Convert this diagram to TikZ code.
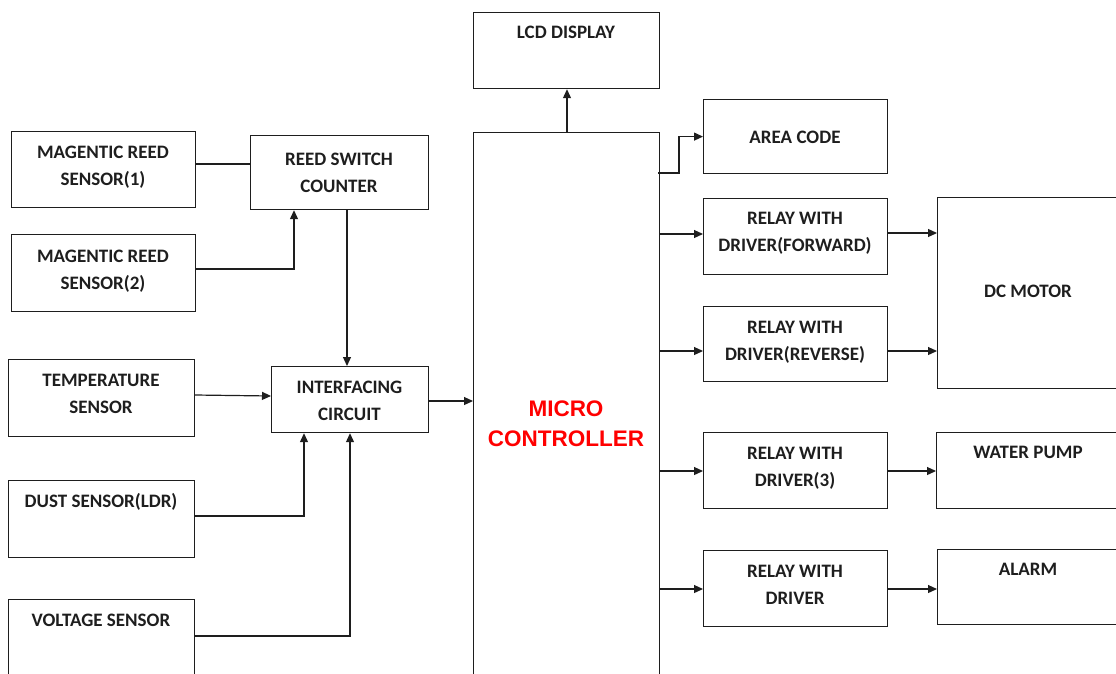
\documentclass[tikz,border=0pt]{standalone}
\usepackage{fontspec}
\setmainfont{Carlito}
\newfontfamily\headfont{Liberation Sans}
\usetikzlibrary{arrows.meta}
\definecolor{ink}{RGB}{30,30,30}
\definecolor{mcred}{RGB}{255,0,0}
% uniform line strut so multi-line labels centre on their capitals
\newcommand{\bline}[1]{\rule[-3pt]{0pt}{21pt}#1}
\newcommand{\rline}[1]{\rule[-3pt]{0pt}{24pt}#1}
\tikzset{
  box/.style={draw=ink, line width=1.2pt, inner sep=0pt, anchor=north west},
  txt/.style={inner sep=0pt, align=center, text=ink,
              font=\bfseries\fontsize{19}{27}\selectfont},
  mctxt/.style={inner sep=0pt, align=center, text=mcred,
              font=\headfont\bfseries\fontsize{22.5}{30}\selectfont},
  wire/.style={draw=ink, line width=1.2pt},
  arr/.style={wire, -{Triangle[length=9pt,width=8pt]}}
}
\begin{document}
\begin{tikzpicture}[x=1pt,y=-1pt]
\useasboundingbox (0,0) rectangle (1116,673);
\clip (0,0) rectangle (1116,673);

% ---- sensor side ----
\node[box,minimum width=184,minimum height=76] (mr1) at (11,131) {};
\node[txt] (mr1t) at (103,164.5) {\bline{MAGENTIC REED}\\\bline{SENSOR(1)}};
\node[box,minimum width=178,minimum height=74] (rsc) at (250,135) {};
\node[txt] (rsct) at (339,171.5) {\bline{REED SWITCH}\\\bline{COUNTER}};
\node[box,minimum width=184,minimum height=77] (mr2) at (11,234) {};
\node[txt] (mr2t) at (103,268) {\bline{MAGENTIC REED}\\\bline{SENSOR(2)}};
\node[box,minimum width=186,minimum height=77] (temp) at (8,359) {};
\node[txt] (tempt) at (101,392.5) {\bline{TEMPERATURE}\\\bline{SENSOR}};
\node[box,minimum width=157,minimum height=66] (ic) at (271,366) {};
\node[txt] (ict) at (349.5,399) {\bline{INTERFACING}\\\bline{CIRCUIT}};
\node[box,minimum width=186,minimum height=77] (dust) at (8,480) {};
\node[txt] (dustt) at (101,500) {\bline{DUST SENSOR(LDR)}};
\node[box,minimum width=186,minimum height=91] (volt) at (8,599) {};
\node[txt] (voltt) at (101,619) {\bline{VOLTAGE SENSOR}};

% ---- controller and display ----
\node[box,minimum width=186,minimum height=76] (lcd) at (473,12) {};
\node[txt] (lcdt) at (566,31) {\bline{LCD DISPLAY}};
\node[box,minimum width=186,minimum height=558] (mc) at (473,132) {};
\node[mctxt] (mct) at (566,422) {\rline{MICRO}\\\rline{CONTROLLER}};

% ---- output side ----
\node[box,minimum width=184,minimum height=74] (area) at (703,99) {};
\node[txt] (areat) at (795,136) {\bline{AREA CODE}};
\node[box,minimum width=184,minimum height=76] (rf) at (703,198) {};
\node[txt] (rft) at (795,230.5) {\bline{RELAY WITH}\\\bline{DRIVER(FORWARD)}};
\node[box,minimum width=184,minimum height=75] (rr) at (703,306) {};
\node[txt] (rrt) at (795,339) {\bline{RELAY WITH}\\\bline{DRIVER(REVERSE)}};
\node[box,minimum width=182,minimum height=191] (dc) at (937,197) {};
\node[txt] (dct) at (1028,290) {\bline{DC MOTOR}};
\node[box,minimum width=184,minimum height=76] (r3) at (703,432) {};
\node[txt] (r3t) at (795,465) {\bline{RELAY WITH}\\\bline{DRIVER(3)}};
\node[box,minimum width=183,minimum height=76] (wp) at (936,432) {};
\node[txt] (wpt) at (1028,451) {\bline{WATER PUMP}};
\node[box,minimum width=184,minimum height=76] (r4) at (703,550) {};
\node[txt] (r4t) at (795,583) {\bline{RELAY WITH}\\\bline{DRIVER}};
\node[box,minimum width=182,minimum height=75] (alarm) at (937,549) {};
\node[txt] (alarmt) at (1028,568) {\bline{ALARM}};

% ---- sensor connections ----
\draw[wire] (mr1.east |- 0,164) -- (rsc.west |- 0,164);
\draw[arr] (mr2.east |- 0,269) -| (rsc.south -| 294,0);
\draw[arr] (rsc.south -| 347,0) -- (ic.north -| 347,0);
\draw[arr] (temp.east |- 0,395) -- (ic.west |- 0,396);
\draw[arr] (dust.east |- 0,516) -| (ic.south -| 304,0);
\draw[arr] (volt.east |- 0,636) -| (ic.south -| 350,0);
\draw[arr] (ic.east |- 0,401) -- (mc.west |- 0,401);

% ---- controller outputs ----
\draw[arr] (mc.north -| 567,0) -- (lcd.south -| 567,0);
\draw[arr] (mc.east |- 0,173) ++(-2,0) -- (679,173) |- (area.west);
\draw[arr] (mc.east |- 0,234) -- (rf.west |- 0,234);
\draw[arr] (mc.east |- 0,351) -- (rr.west |- 0,351);
\draw[arr] (mc.east |- 0,471) -- (r3.west |- 0,471);
\draw[arr] (mc.east |- 0,589) -- (r4.west |- 0,589);

% ---- drivers to loads ----
\draw[arr] (rf.east |- 0,233) -- (dc.west |- 0,233);
\draw[arr] (rr.east |- 0,351) -- (dc.west |- 0,351);
\draw[arr] (r3.east |- 0,471) -- (wp.west |- 0,471);
\draw[arr] (r4.east |- 0,589) -- (alarm.west |- 0,589);
\end{tikzpicture}
\end{document}
